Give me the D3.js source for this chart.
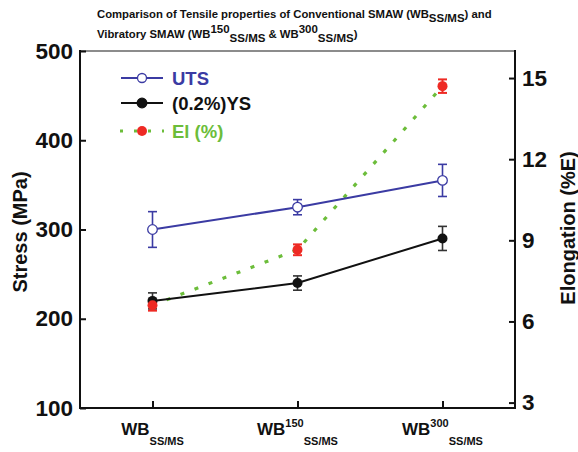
<!DOCTYPE html>
<html><head><meta charset="utf-8">
<script src="https://cdn.jsdelivr.net/npm/d3@7"></script>
<style>body{margin:0;background:#fff;} text{font-family:"Liberation Sans",Arial,sans-serif;}</style>
</head><body>
<svg id="c" width="578" height="452"></svg>
<script>
const categories = ["WB", "WB150", "WB300"];
const catBase = ["WB", "WB", "WB"];
const catSup = ["", "150", "300"];
const catSub = ["SS/MS", "SS/MS", "SS/MS"];
const utsValues = [300, 325, 355];
const utsErrors = [20, 8.5, 18];
const ysValues = [220, 240, 290];
const ysErrors = [9, 8, 13.5];
const elValues = [6.6, 8.65, 14.7];
const elErrors = [0.2, 0.2, 0.25];
const stressTicks = [100, 200, 300, 400, 500];
const elongTicks = [3, 6, 9, 12, 15];

const svg = d3.select("#c");
const L = 80, R = 515, T = 51, B = 408;
const x = d3.scalePoint().domain(categories).range([L, R]).padding(0.5);
const yL = d3.scaleLinear().domain([100, 500]).range([B, T]);
const yR = d3.scaleLinear().domain([2.8, 16]).range([B, T]);

const cUTS = "#3b3ba3", cYS = "#111", cEl = "#6cbd3a", cRed = "#ee2a24";

// top frame line
svg.append("line").attr("x1", L).attr("x2", R).attr("y1", T).attr("y2", T)
  .attr("stroke", "#666").attr("stroke-width", 1.5);

// axes
const gL = svg.append("g").attr("transform", `translate(${L},0)`)
  .call(d3.axisLeft(yL).tickValues(stressTicks).tickSize(-6).tickPadding(7).tickSizeOuter(0));
const gR = svg.append("g").attr("transform", `translate(${R},0)`)
  .call(d3.axisRight(yR).tickValues(elongTicks).tickSize(-6).tickPadding(7).tickSizeOuter(0));
const gB = svg.append("g").attr("transform", `translate(0,${B})`)
  .call(d3.axisBottom(x).tickSize(-7).tickSizeOuter(0).tickFormat(""));
[gL, gR, gB].forEach(g => {
  g.select(".domain").attr("stroke", "#111").attr("stroke-width", 2);
  g.selectAll(".tick line").attr("stroke", "#111").attr("stroke-width", 2);
});
gL.select(".domain").attr("d", `M0,${T-1}V${B+1}`);
gR.select(".domain").attr("d", `M0,${T-1}V${B+1}`);
gB.select(".domain").attr("d", `M${L-1},0H${R+1}`);
[gL, gR].forEach(g => g.selectAll(".tick text")
  .attr("font-size", 22.5).attr("font-weight", "bold").attr("fill", "#111")
  .style("font-family", '"Liberation Sans",Arial,sans-serif'));

// x labels
categories.forEach((c, i) => {
  const t = svg.append("text").attr("x", x(c)).attr("y", 435)
    .attr("text-anchor", "middle").attr("font-weight", "bold").attr("fill", "#111");
  t.append("tspan").attr("font-size", 17).text(catBase[i]);
  if (catSup[i]) t.append("tspan").attr("font-size", 11).attr("dy", -8).text(catSup[i]);
  t.append("tspan").attr("font-size", 11).attr("dy", catSup[i] ? 18 : 10).text(catSub[i]);
});

// axis titles
svg.append("text").attr("transform", "translate(27,232) rotate(-90)")
  .attr("text-anchor", "middle").attr("font-size", 20).attr("font-weight", "bold")
  .attr("fill", "#111").text("Stress (MPa)");
svg.append("text").attr("transform", "translate(575,228) rotate(-90)")
  .attr("text-anchor", "middle").attr("font-size", 20).attr("font-weight", "bold")
  .attr("fill", "#111").text("Elongation (%E)");

// title
const t1 = svg.append("text").attr("x", 97).attr("y", 18).attr("font-size", 11.3)
  .attr("font-weight", "bold").attr("fill", "#111");
t1.append("tspan").text("Comparison of Tensile properties of Conventional SMAW (WB");
t1.append("tspan").attr("font-size", 11.5).attr("dy", 4).text("SS/MS");
t1.append("tspan").attr("dy", -4).text(") and");
const t2 = svg.append("text").attr("x", 97).attr("y", 38).attr("font-size", 11.3)
  .attr("font-weight", "bold").attr("fill", "#111");
t2.append("tspan").text("Vibratory SMAW (WB");
t2.append("tspan").attr("font-size", 11.5).attr("dy", -5).text("150");
t2.append("tspan").attr("font-size", 11.5).attr("dy", 9).text("SS/MS");
t2.append("tspan").attr("dy", -4).text(" & WB");
t2.append("tspan").attr("font-size", 11.5).attr("dy", -5).text("300");
t2.append("tspan").attr("font-size", 11.5).attr("dy", 9).text("SS/MS");
t2.append("tspan").attr("dy", -4).text(")");

// lines
const idx = d3.range(categories.length);
svg.append("path").datum(idx)
  .attr("d", d3.line().x(i => x(categories[i])).y(i => yR(elValues[i])))
  .attr("fill", "none").attr("stroke", cEl).attr("stroke-width", 3.2)
  .attr("stroke-dasharray", "4,11");
svg.append("path").datum(idx)
  .attr("d", d3.line().x(i => x(categories[i])).y(i => yL(ysValues[i])))
  .attr("fill", "none").attr("stroke", cYS).attr("stroke-width", 2);
svg.append("path").datum(idx)
  .attr("d", d3.line().x(i => x(categories[i])).y(i => yL(utsValues[i])))
  .attr("fill", "none").attr("stroke", cUTS).attr("stroke-width", 2);

function errBars(vals, errs, scale, color, w) {
  idx.forEach(i => {
    const cx = x(categories[i]);
    const y1 = scale(vals[i] + errs[i]), y2 = scale(vals[i] - errs[i]);
    const g = svg.append("g").attr("stroke", color).attr("stroke-width", w);
    g.append("line").attr("x1", cx).attr("x2", cx).attr("y1", y1).attr("y2", y2);
    g.append("line").attr("x1", cx - 4.5).attr("x2", cx + 4.5).attr("y1", y1).attr("y2", y1);
    g.append("line").attr("x1", cx - 4.5).attr("x2", cx + 4.5).attr("y1", y2).attr("y2", y2);
  });
}
errBars(utsValues, utsErrors, yL, cUTS, 1.6);
errBars(ysValues, ysErrors, yL, "#333", 1.6);
errBars(elValues, elErrors, yR, cRed, 2);

idx.forEach(i => {
  svg.append("circle").attr("cx", x(categories[i])).attr("cy", yL(utsValues[i])).attr("r", 4.8)
    .attr("fill", "#fff").attr("stroke", cUTS).attr("stroke-width", 1.3);
  svg.append("circle").attr("cx", x(categories[i])).attr("cy", yL(ysValues[i])).attr("r", 5)
    .attr("fill", cYS);
  svg.append("circle").attr("cx", x(categories[i])).attr("cy", yR(elValues[i])).attr("r", 5)
    .attr("fill", cRed);
});

// legend
const lg = svg.append("g");
const rows = [
  {label: "UTS", y: 78, color: cUTS, kind: "open"},
  {label: "(0.2%)YS", y: 103, color: cYS, kind: "filled"},
  {label: "El (%)", y: 131, color: cEl, kind: "el"}
];
rows.forEach(r => {
  if (r.kind === "el") {
    lg.append("line").attr("x1", 120).attr("x2", 164).attr("y1", r.y).attr("y2", r.y)
      .attr("stroke", cEl).attr("stroke-width", 3.2).attr("stroke-dasharray", "3,11");
    lg.append("circle").attr("cx", 142).attr("cy", r.y).attr("r", 5).attr("fill", cRed);
  } else {
    lg.append("line").attr("x1", 121).attr("x2", 163).attr("y1", r.y).attr("y2", r.y)
      .attr("stroke", r.color).attr("stroke-width", 2);
    lg.append("circle").attr("cx", 142).attr("cy", r.y).attr("r", r.kind === "open" ? 4.5 : 4.8)
      .attr("fill", r.kind === "open" ? "#fff" : r.color)
      .attr("stroke", r.color).attr("stroke-width", 1.3);
  }
  lg.append("text").attr("x", 172).attr("y", r.y + 6.5).attr("font-size", 18.5)
    .attr("font-weight", "bold").attr("fill", r.color).text(r.label);
});
</script>
</body></html>
